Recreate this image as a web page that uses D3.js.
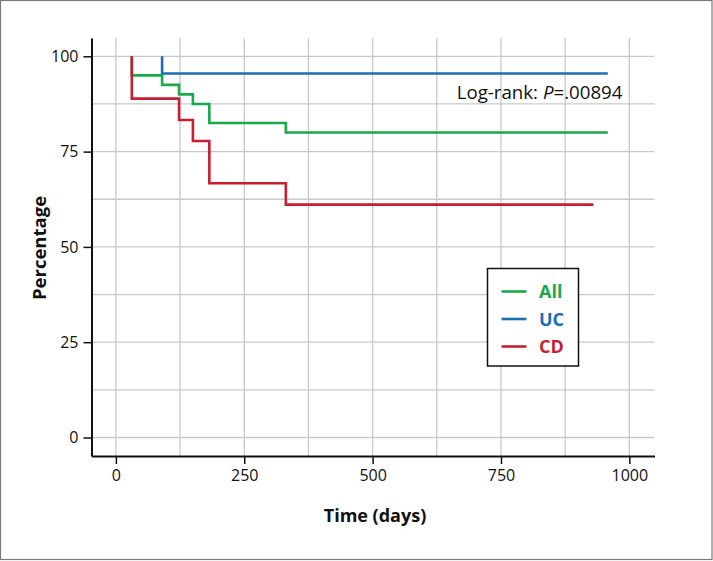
<!DOCTYPE html>
<html>
<head>
<meta charset="utf-8">
<script src="https://cdn.jsdelivr.net/npm/d3@7"></script>
<style>
  html, body { margin: 0; padding: 0; background: #fff; }
  svg { display: block; }
  text { font-family: "Open Sans", "Noto Sans", sans-serif; }
</style>
</head>
<body>
<svg id="chart" width="713" height="561"></svg>
<script>
// ---- Data ----
const seriesNames = ["All", "UC", "CD"];
const seriesColors = ["#1aa84c", "#1b6db4", "#c81f30"];
const allTimes  = [31, 31, 90, 123, 150, 182, 331, 958];
const allValues = [100, 95, 92.5, 90, 87.5, 82.5, 80, 80];
const ucTimes   = [90, 90, 958];
const ucValues  = [100, 95.5, 95.5];
const cdTimes   = [31, 31, 123, 150, 182, 331, 930];
const cdValues  = [100, 88.9, 83.3, 77.8, 66.7, 61.1, 61.1];
const xTicks = [0, 250, 500, 750, 1000];
const yTicks = [0, 25, 50, 75, 100];
const xGrid = [0, 125, 250, 375, 500, 625, 750, 875, 1000];
const yGrid = [0, 12.5, 25, 37.5, 50, 62.5, 75, 87.5, 100];
const annotation = { pre: "Log-rank: ", italic: "P", post: "=.00894" };

const svg = d3.select("#chart");

// outer frame
svg.append("rect").attr("x", 0.5).attr("y", 0.5).attr("width", 711.5).attr("height", 559)
  .attr("fill", "#fff").attr("stroke", "#7a7a7a").attr("stroke-width", 1.2);

const x = d3.scaleLinear().domain([-47.5, 1049]).range([91.5, 654.5]);
const y = d3.scaleLinear().domain([-4.85, 104.8]).range([456, 38]);

// gridlines
const grid = svg.append("g");
grid.selectAll("line.v").data(xGrid).join("line").attr("class", "v")
  .attr("x1", d => x(d)).attr("x2", d => x(d))
  .attr("y1", y.range()[1]).attr("y2", y.range()[0])
  .attr("stroke", "#c9c9c9").attr("stroke-width", 1.3);
grid.selectAll("line.h").data(yGrid).join("line").attr("class", "h")
  .attr("x1", x.range()[0]).attr("x2", x.range()[1])
  .attr("y1", d => y(d)).attr("y2", d => y(d))
  .attr("stroke", "#c9c9c9").attr("stroke-width", 1.3);

// axes
const xAxis = d3.axisBottom(x).tickValues(xTicks).tickFormat(d3.format("d"))
  .tickSize(8).tickPadding(6).tickSizeOuter(0);
const yAxis = d3.axisLeft(y).tickValues(yTicks).tickFormat(d3.format("d"))
  .tickSize(8).tickPadding(5).tickSizeOuter(0);
const gx = svg.append("g").attr("transform", `translate(0,${y.range()[0]})`).call(xAxis);
const gy = svg.append("g").attr("transform", `translate(${x.range()[0]},0)`).call(yAxis);
[gx, gy].forEach(g => {
  g.select(".domain").attr("stroke", "#111").attr("stroke-width", 2);
  g.selectAll(".tick line").attr("stroke", "#111").attr("stroke-width", 1.5);
  g.selectAll(".tick text").attr("fill", "#111").style("font-size", "16px")
    .style("font-family", "'Open Sans', sans-serif");
});

// axis titles
svg.append("text").attr("x", 375).attr("y", 522).attr("text-anchor", "middle")
  .style("font-size", "18px").style("font-weight", "bold").attr("fill", "#111").text("Time (days)");
svg.append("text").attr("transform", "translate(46,248) rotate(-90)").attr("text-anchor", "middle")
  .style("font-size", "18.5px").style("font-weight", "bold").attr("fill", "#111").text("Percentage");

// curves
const series = [
  { name: seriesNames[0], color: seriesColors[0], t: allTimes, v: allValues },
  { name: seriesNames[1], color: seriesColors[1], t: ucTimes, v: ucValues },
  { name: seriesNames[2], color: seriesColors[2], t: cdTimes, v: cdValues }
];
const line = d3.line().x(d => x(d[0])).y(d => y(d[1])).curve(d3.curveStepAfter);
svg.append("g").selectAll("path").data(series).join("path")
  .attr("d", s => line(s.t.map((t, i) => [t, s.v[i]])))
  .attr("fill", "none").attr("stroke", s => s.color).attr("stroke-width", 2.6);

// annotation
const ann = svg.append("text").attr("x", 622.5).attr("y", 98.5).attr("text-anchor", "end")
  .style("font-size", "18.7px").attr("fill", "#111");
ann.append("tspan").text(annotation.pre);
ann.append("tspan").style("font-style", "italic").text(annotation.italic);
ann.append("tspan").text(annotation.post);

// legend
const lg = svg.append("g");
lg.append("rect").attr("x", 487.5).attr("y", 268.5).attr("width", 91).attr("height", 97.5)
  .attr("fill", "#fff").attr("stroke", "#111").attr("stroke-width", 1.5);
const ly = d3.scalePoint().domain(seriesNames).range([291.5, 346.5]);
series.forEach(s => {
  lg.append("line").attr("x1", 501.5).attr("x2", 526.5).attr("y1", ly(s.name)).attr("y2", ly(s.name))
    .attr("stroke", s.color).attr("stroke-width", 2.6);
  lg.append("text").attr("x", 539).attr("y", ly(s.name) + 6.5).attr("fill", s.color)
    .style("font-size", "18px").style("font-weight", "bold").text(s.name);
});
</script>
</body>
</html>
